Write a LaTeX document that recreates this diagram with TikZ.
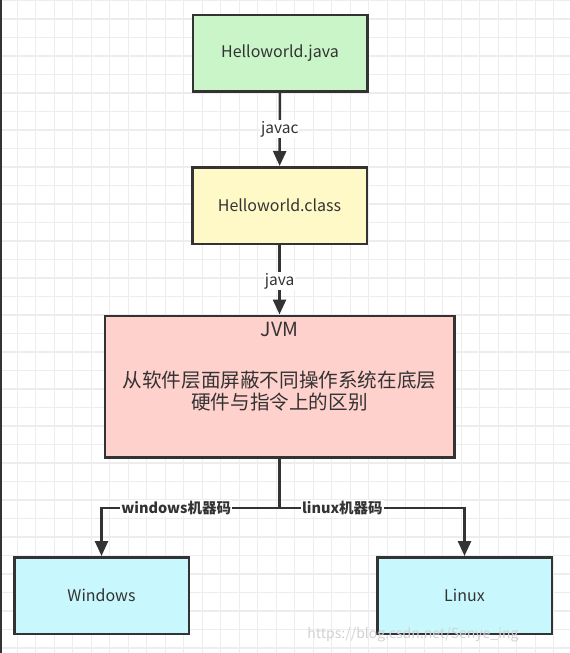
\documentclass[tikz,border=0pt]{standalone}
\usepackage{fontspec}
\setmainfont{Noto Sans CJK SC}
\usetikzlibrary{arrows.meta}
\definecolor{javagreen}{HTML}{C9F5C9}
\definecolor{classyellow}{HTML}{FFF9C8}
\definecolor{jvmred}{HTML}{FFD1CD}
\definecolor{oscyan}{HTML}{C8F8FE}
\definecolor{edgegray}{HTML}{333333}
\definecolor{gridgray}{HTML}{EDEDED}
\begin{document}
\begin{tikzpicture}[x=1pt, y=-1pt, >={Triangle[width=13pt,length=15pt]},
  box/.style={draw=edgegray, line width=2.5pt, inner sep=0pt, text=edgegray,
    minimum width=174.5pt, minimum height=76.5pt, font=\fontsize{16}{19}\selectfont},
  flow/.style={draw=edgegray, line width=2.5pt},
  flowlabel/.style={fill=white, inner sep=1pt, text=edgegray, font=\fontsize{15.5}{18}\selectfont},
  oslabel/.style={fill=white, inner sep=1pt, text=edgegray, font=\fontsize{14.5}{17}\selectfont\bfseries}]
  % canvas and grid
  \useasboundingbox (0,0) rectangle (570,653);
  \fill[white] (0,0) rectangle (570,653);
  \foreach \gx in {0,...,30} \draw[gridgray, line width=1.2pt] (17.3+18.5*\gx,0) -- (17.3+18.5*\gx,653);
  \foreach \gy in {0,...,35} \draw[gridgray, line width=1.2pt] (0,0.5+18.5*\gy) -- (570,0.5+18.5*\gy);
  \draw[edgegray, line width=1.5pt] (0.75,0) -- (0.75,653);
  % boxes
  \node[box, fill=javagreen] (java) at (280,53) {Helloworld.java};
  \node[box, fill=classyellow] (class) at (279.5,205.5) {Helloworld.class};
  \node[box, fill=jvmred, minimum width=349.5pt, minimum height=141.5pt] (jvm) at (279.5,386.5) {};
  \node[text=edgegray, font=\fontsize{19.5}{22}\selectfont] (jvmtitle) at (279.5,329) {JVM};
  \node[text=edgegray, align=center, font=\fontsize{19.6}{22}\selectfont] (jvmtext) at (279.5,391)
    {从软件层面屏蔽不同操作系统在底层\\硬件与指令上的区别};
  \node[box, fill=oscyan] (win) at (101.5,595.5) {Windows};
  \node[box, fill=oscyan] (linux) at (464.5,595.5) {Linux};
  % connectors
  \coordinate (split) at (279.5,508);
  \draw[flow, ->] (java) -- (class) node[flowlabel, pos=0.5] {javac};
  \draw[flow, ->] (class) -- (jvm) node[flowlabel, pos=0.52] {java};
  \draw[flow] (jvm) -- (split);
  \draw[flow, ->] (split) -| (win) node[oslabel, pos=0.29] {windows机器码};
  \draw[flow, ->] (split) -| (linux) node[oslabel, pos=0.17] {linux机器码};
  % watermark
  \node[text=gray!35, font=\fontsize{14}{16}\selectfont] (mark) at (413,635) {https://blog.csdn.net/Senye\_ing};
\end{tikzpicture}
\end{document}
